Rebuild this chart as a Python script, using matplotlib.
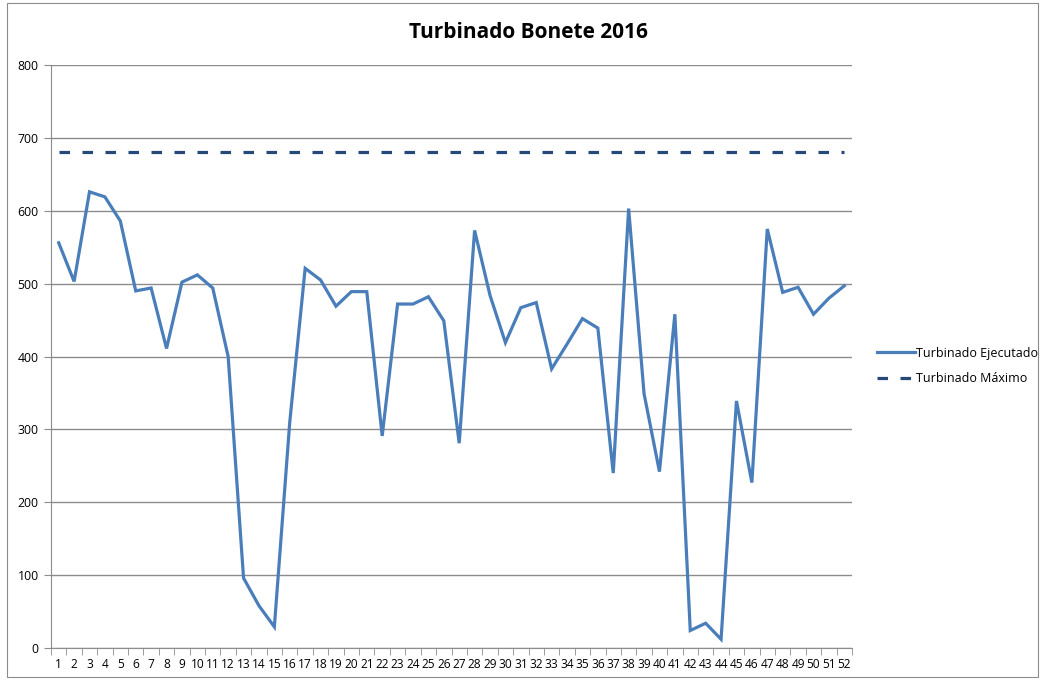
import matplotlib

matplotlib.use('Agg')
import matplotlib.pyplot as plt
from matplotlib.patches import Rectangle

weeks = list(range(1, 53))
ejecutado = [556, 503, 626, 619, 586, 490, 494, 411, 502, 512,
             494, 400, 96, 58, 29, 310, 521, 505, 469, 489,
             489, 291, 472, 472, 482, 449, 281, 573, 484, 419,
             467, 474, 383, 417, 452, 439, 240, 603, 349, 242,
             458, 24, 34, 12, 339, 227, 575, 488, 495, 458,
             480, 497]
maximo = [680] * len(weeks)

blue = '#4a7ebb'
navy = '#254a7a'
grid_color = '#8c8c8c'

plt.rcParams['font.family'] = ['Open Sans', 'DejaVu Sans']

fig = plt.figure(figsize=(10.4, 6.82), dpi=100)
ax = fig.add_axes([51 / 1040, 1 - 648 / 682, 801 / 1040, 583 / 682])

ax.plot(weeks, ejecutado, color=blue, lw=2.3, solid_joinstyle='miter',
        label='Turbinado Ejecutado', zorder=3)
ax.plot(weeks, maximo, color=navy, lw=2.3, dashes=(3.3, 3.9),
        dash_capstyle='butt', label='Turbinado Máximo', zorder=3)

ax.set_xlim(0.5, 52.5)
ax.set_ylim(0, 800)
ax.set_yticks(range(0, 801, 100))
ax.set_xticks(weeks)
ax.set_xticklabels([str(w) for w in weeks], fontsize=8.6)
ax.tick_params(axis='x', length=0, pad=7)
ax.set_xticks([w + 0.5 for w in range(0, 53)], minor=True)
ax.tick_params(axis='x', which='minor', length=5, color=grid_color, direction='out')
ax.tick_params(axis='y', length=5, color=grid_color, labelsize=8.8, pad=4)
ax.grid(axis='y', color=grid_color, lw=1)
ax.set_axisbelow(True)
for side in ['top', 'right']:
    ax.spines[side].set_visible(False)
for side in ['left', 'bottom']:
    ax.spines[side].set_color(grid_color)

fig.text(528 / 1040, 1 - 33 / 682, 'Turbinado Bonete 2016', fontsize=15,
         fontweight='bold', ha='center', va='center')

fig.legend(loc='center left', bbox_to_anchor=(866 / 1040, 1 - 366 / 682),
           frameon=False, fontsize=9, handlelength=3.0, handletextpad=0.1,
           labelspacing=1.0)

fig.patches.append(Rectangle((7 / 1040, 5 / 682), 1 - 9 / 1040, 1 - 8 / 682,
                             transform=fig.transFigure, fill=False,
                             edgecolor='#8c8c8c', lw=0.8))

fig.savefig('out.png', dpi=100)
